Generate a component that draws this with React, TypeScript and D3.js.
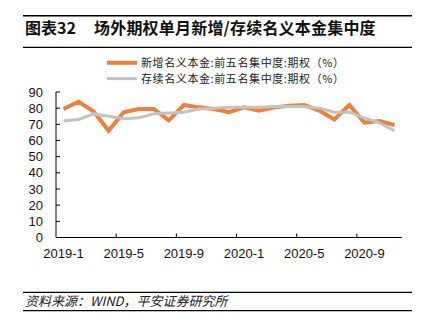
import React from "react";
import * as d3 from "d3";

const categories: string[] = [
  "2019-1","2019-2","2019-3","2019-4","2019-5","2019-6","2019-7","2019-8","2019-9","2019-10","2019-11","2019-12",
  "2020-1","2020-2","2020-3","2020-4","2020-5","2020-6","2020-7","2020-8","2020-9","2020-10","2020-11",
];
const newValues: number[] = [79.5, 84, 78, 66, 77.5, 79.5, 79.5, 72.5, 82, 80.5, 79.5, 77.5, 80.5, 78.5, 80.5, 81.5, 82, 78.5, 73, 82, 71, 72, 69.5];
const stockValues: number[] = [72, 73, 76.5, 75, 73.5, 74, 76.5, 77, 77.5, 79.5, 80, 80.5, 80.5, 80.5, 81, 81, 81, 80, 77.5, 77.5, 74, 71, 66];
const yTicks: number[] = [0, 10, 20, 30, 40, 50, 60, 70, 80, 90];
const xLabels: string[] = ["2019-1", "2019-5", "2019-9", "2020-1", "2020-5", "2020-9"];
const seriesNames: string[] = ["新增名义本金:前五名集中度:期权（%）", "存续名义本金:前五名集中度:期权（%）"];
const title = "场外期权单月新增/存续名义本金集中度";
const titleNo = "图表32";
const source = "资料来源：WIND，平安证券研究所";

const ORANGE = "#F07F3A";
const GRAY = "#C3C3C3";
const CJK = "'Noto Sans CJK SC', sans-serif";
const NUM = "'Liberation Sans', Arial, sans-serif";

export default function App() {
  const W = 434, H = 333;
  const x = d3.scaleBand<string>().domain(categories).range([56, 402]).paddingInner(0).paddingOuter(0);
  const y = d3.scaleLinear().domain([0, 90]).range([237.5, 92]);
  const cx = (c: string) => (x(c) as number) + x.bandwidth() / 2;
  const line = d3.line<number>().x((_, i) => cx(categories[i])).y((d) => y(d));
  const boundaryIdx = [4, 8, 12, 16, 20];

  return (
    <svg width={W} height={H} style={{ position: "absolute", left: 0, top: 0 }}>
      <rect width={W} height={H} fill="#fff" />
      {/* title */}
      <line x1={23} x2={412} y1={15.7} y2={15.7} stroke="#000" strokeWidth={1.5} />
      <text x={25} y={34} fontFamily={CJK} fontSize={16} fontWeight="bold" fill="#111">{titleNo}</text>
      <text x={94} y={34} fontFamily={CJK} fontSize={16} fontWeight="bold" fill="#111" letterSpacing={0.2}>{title}</text>
      <line x1={23} x2={412} y1={47.3} y2={47.3} stroke="#000" strokeWidth={1.2} />

      {/* legend */}
      <line x1={107} x2={137} y1={62.8} y2={62.8} stroke={ORANGE} strokeWidth={4} />
      <text x={141} y={66.6} fontFamily={CJK} fontSize={11} letterSpacing={0.6} fill="#222">{seriesNames[0]}</text>
      <line x1={107} x2={137} y1={78.6} y2={78.6} stroke={GRAY} strokeWidth={3} />
      <text x={141} y={82.6} fontFamily={CJK} fontSize={11} letterSpacing={0.6} fill="#222">{seriesNames[1]}</text>

      {/* y axis */}
      <line x1={56} x2={56} y1={y(90)} y2={y(0)} stroke="#000" strokeWidth={1} />
      {yTicks.map((t) => (
        <g key={t}>
          <line x1={56} x2={60} y1={y(t)} y2={y(t)} stroke="#000" strokeWidth={1} />
          <text x={43} y={y(t)} dy="0.35em" textAnchor="end" fontFamily={NUM} fontSize={13} fill="#111">{t}</text>
        </g>
      ))}

      {/* x axis */}
      <line x1={56} x2={402} y1={y(0)} y2={y(0)} stroke="#000" strokeWidth={1} />
      {boundaryIdx.map((i) => (
        <line key={i} x1={x(categories[i]) as number} x2={x(categories[i]) as number} y1={y(0)} y2={y(0) - 4} stroke="#000" strokeWidth={1} />
      ))}
      {xLabels.map((l) => (
        <text key={l} x={cx(l)} y={258} textAnchor="middle" fontFamily={NUM} fontSize={13} fill="#111">{l}</text>
      ))}

      {/* series */}
      <path d={line(newValues) || ""} fill="none" stroke={ORANGE} strokeWidth={4} strokeLinejoin="miter" />
      <path d={line(stockValues) || ""} fill="none" stroke={GRAY} strokeWidth={3} strokeLinejoin="round" />

      {/* source */}
      <line x1={23} x2={412} y1={292.3} y2={292.3} stroke="#000" strokeWidth={1.2} />
      <text x={25} y={306} fontFamily={CJK} fontSize={13} fontStyle="italic" fill="#222">{source}</text>
      <line x1={23} x2={412} y1={310.7} y2={310.7} stroke="#000" strokeWidth={1.2} />
    </svg>
  );
}
